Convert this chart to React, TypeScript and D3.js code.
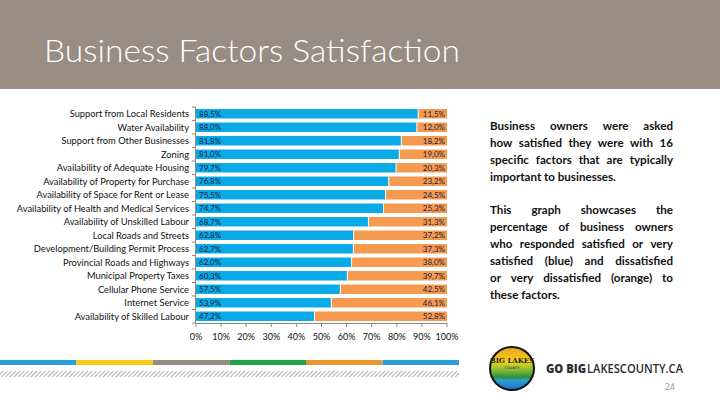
import React from "react";
import * as d3 from "d3";

const categories = [
  "Support from Local Residents",
  "Water Availability",
  "Support from Other Businesses",
  "Zoning",
  "Availability of Adequate Housing",
  "Availability of Property for Purchase",
  "Availability of Space for Rent or Lease",
  "Availability of Health and Medical Services",
  "Availability of Unskilled Labour",
  "Local Roads and Streets",
  "Development/Building Permit Process",
  "Provincial Roads and Highways",
  "Municipal Property Taxes",
  "Cellular Phone Service",
  "Internet Service",
  "Availability of Skilled Labour",
];
const satisfied = [88.5, 88.0, 81.8, 81.0, 79.7, 76.8, 75.5, 74.7, 68.7, 62.8, 62.7, 62.0, 60.3, 57.5, 53.9, 47.2];
const dissatisfied = [11.5, 12.0, 18.2, 19.0, 20.3, 23.2, 24.5, 25.3, 31.3, 37.2, 37.3, 38.0, 39.7, 42.5, 46.1, 52.8];
const xTicks = [0, 10, 20, 30, 40, 50, 60, 70, 80, 90, 100];

const title = "Business Factors Satisfaction";
const paragraph1 = [
  "Business owners were asked",
  "how satisfied they were with 16",
  "specific factors that are typically",
  "important to businesses.",
];
const paragraph2 = [
  "This graph showcases the",
  "percentage of business owners",
  "who responded satisfied or very",
  "satisfied (blue) and dissatisfied",
  "or very dissatisfied (orange) to",
  "these factors.",
];
const stripeColors = ["#2a9fd8", "#f7c918", "#978c82", "#1fa24a", "#ec9430", "#2a9fd8"];

const fmt = (v: number) => v.toFixed(1).replace(".", ",") + "%";

let ctx: CanvasRenderingContext2D | null = null;
function measure(text: string, font: string) {
  if (!ctx) ctx = document.createElement("canvas").getContext("2d");
  if (!ctx) return text.length * 6;
  ctx.font = font;
  return ctx.measureText(text).width;
}

function JustifiedText({ lines, x, y, width, lh, size, family, weight }: any) {
  const font = `${weight} ${size}px ${family}`;
  return (
    <g>
      {lines.map((line: string, i: number) => {
        const words = line.split(" ");
        const last = i === lines.length - 1;
        const ws = words.map((w) => measure(w, font));
        const total = ws.reduce((a, b) => a + b, 0);
        const space = measure(" ", font);
        const gap = last || words.length < 2 ? space : (width - total) / (words.length - 1);
        let cx = x;
        return (
          <text key={i} y={y + i * lh} fontFamily={family} fontSize={size} fontWeight={weight} fill="#111">
            {words.map((w, j) => {
              const px = cx;
              cx += ws[j] + gap;
              return (
                <tspan key={j} x={px}>
                  {w}
                </tspan>
              );
            })}
          </text>
        );
      })}
    </g>
  );
}

export default function App() {
  const W = 720, H = 405;
  const x0 = 196, x1 = 447;
  const yTop = 107, yBot = 323;
  const x = d3.scaleLinear().domain([0, 100]).range([x0, x1]);
  const y = d3.scaleBand<string>().domain(categories).range([yTop, yBot]).paddingInner(0.3).paddingOuter(0.15);
  const step = y.step();
  const labelFont = "Lato, 'Noto Sans', sans-serif";

  const stripeW = 459 / stripeColors.length;

  return (
    <svg width={W} height={H} style={{ position: "fixed", left: 0, top: 0, background: "#fff" }}>
      <defs>
        <pattern id="hatch" width="3" height="3" patternUnits="userSpaceOnUse" patternTransform="rotate(45)">
          <rect width="3" height="3" fill="#fff" />
          <line x1="0" y1="0" x2="0" y2="3" stroke="#8a8a8a" strokeWidth="1.4" />
        </pattern>
        <linearGradient id="logoGrad" x1="0" y1="0" x2="0" y2="1">
          <stop offset="0" stopColor="#f0a020" />
          <stop offset="0.35" stopColor="#f3d21c" />
          <stop offset="0.55" stopColor="#7cb83a" />
          <stop offset="0.7" stopColor="#2f8f3a" />
          <stop offset="0.78" stopColor="#2c9fd6" />
          <stop offset="1" stopColor="#1b6fb8" />
        </linearGradient>
      </defs>

      {/* header */}
      <rect x={0} y={0} width={W} height={89} fill="#988c83" />
      <text x={44} y={62} fill="#fff" fontFamily="Lato, 'Open Sans', sans-serif" fontWeight={300} fontSize={31} textLength={416} lengthAdjust="spacingAndGlyphs">
        {title}
      </text>

      {/* bars */}
      {categories.map((c, i) => {
        const yy = y(c)!;
        const bh = y.bandwidth();
        return (
          <g key={c}>
            <rect x={x(0)} y={yy} width={x(satisfied[i]) - x(0)} height={bh} fill="#0aaae6" />
            <rect x={x(satisfied[i])} y={yy} width={x(100) - x(satisfied[i])} height={bh} fill="#f59a4e" />
            <line x1={x(satisfied[i])} x2={x(satisfied[i])} y1={yy} y2={yy + bh} stroke="#fff" strokeWidth={1} />
            <text x={x(0) + 3} y={yy + bh / 2 + 3} fontFamily={labelFont} fontSize={8} fill="#1b1b40">
              {fmt(satisfied[i])}
            </text>
            <text x={x(100) - 2} y={yy + bh / 2 + 3} textAnchor="end" fontFamily={labelFont} fontSize={8} fill="#1b1b40">
              {fmt(dissatisfied[i])}
            </text>
            <text x={189} y={yy + bh / 2 + 3.3} textAnchor="end" fontFamily={labelFont} fontSize={9.3} fill="#111">
              {c}
            </text>
          </g>
        );
      })}

      {/* y axis */}
      <line x1={x0 - 0.5} x2={x0 - 0.5} y1={yTop} y2={yBot} stroke="#8c8c8c" strokeWidth={1} />
      {d3.range(categories.length + 1).map((i) => (
        <line key={i} x1={x0 - 4} x2={x0} y1={yTop + i * step} y2={yTop + i * step} stroke="#8c8c8c" strokeWidth={1} />
      ))}
      {/* x axis */}
      <line x1={x0 - 0.5} x2={x1} y1={yBot + 0.5} y2={yBot + 0.5} stroke="#8c8c8c" strokeWidth={1} />
      {xTicks.map((t) => (
        <g key={t}>
          <line x1={x(t)} x2={x(t)} y1={yBot} y2={yBot + 4} stroke="#8c8c8c" strokeWidth={1} />
          <text x={x(t)} y={yBot + 17} textAnchor="middle" fontFamily={labelFont} fontSize={9} fill="#111">
            {t}%
          </text>
        </g>
      ))}

      {/* side text */}
      <JustifiedText lines={paragraph1} x={490} y={130} width={183} lh={17} size={11.6} family="Lato, 'Noto Sans', sans-serif" weight={700} />
      <JustifiedText lines={paragraph2} x={490} y={214} width={183} lh={16.9} size={11.6} family="Lato, 'Noto Sans', sans-serif" weight={700} />

      {/* footer stripes */}
      {stripeColors.map((c, i) => (
        <rect key={i} x={i * stripeW} y={360} width={stripeW} height={5} fill={c} />
      ))}
      <rect x={0} y={371} width={459} height={6} fill="url(#hatch)" />

      {/* logo */}
      <ellipse cx={512} cy={368.5} rx={22} ry={21.5} fill="url(#logoGrad)" stroke="#111" strokeWidth={2} />
      <text x={512} y={363} textAnchor="middle" fontFamily="'DejaVu Serif', serif" fontSize={7} fontWeight={700} fill="#222">
        BIG LAKES
      </text>
      <text x={512} y={369} textAnchor="middle" fontFamily="'DejaVu Sans', sans-serif" fontSize={3.5} fill="#222">
        COUNTY
      </text>
      <text x={546} y={372.5} fontFamily="'Open Sans', Lato, sans-serif" fontSize={12.5} fontWeight={800} fill="#2b2b2b" textLength={40} lengthAdjust="spacingAndGlyphs">
        GO BIG
      </text>
      <text x={587} y={372.5} fontFamily="'Open Sans', Lato, sans-serif" fontSize={12.5} fontWeight={600} fill="#2b2b2b" textLength={96} lengthAdjust="spacingAndGlyphs">
        LAKESCOUNTY.CA
      </text>
      <text x={675} y={390} textAnchor="end" fontFamily="'Open Sans', sans-serif" fontSize={9} fill="#999">
        24
      </text>
    </svg>
  );
}
